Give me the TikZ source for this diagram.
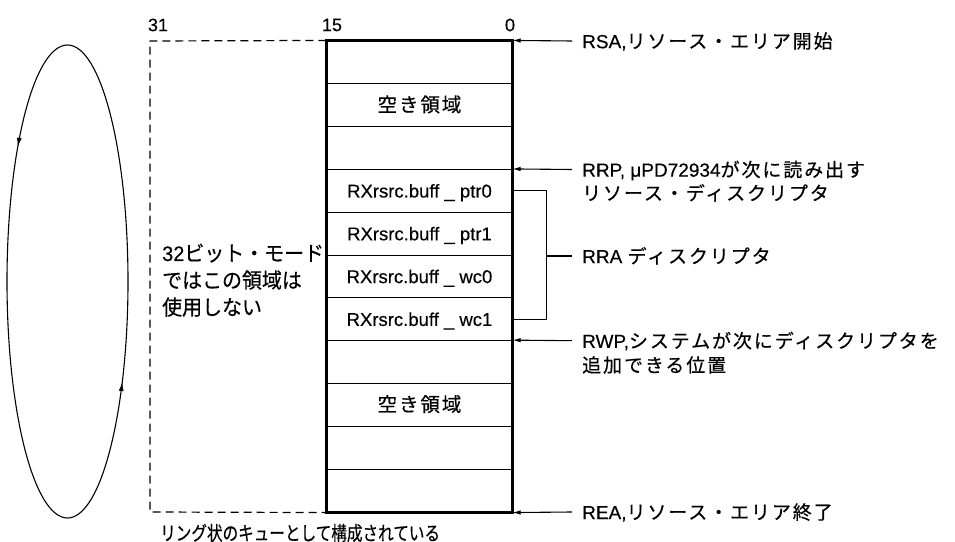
\documentclass[tikz,border=0pt]{standalone}
\usepackage{fontspec}
\setmainfont{Liberation Sans}[FakeBold=0.3]
\newfontfamily\jp{Noto Sans CJK JP}[FakeBold=0.4]
\newfontfamily\jpsp{Noto Sans CJK JP}[FakeBold=0.4,LetterSpace=10]
\usetikzlibrary{arrows.meta,decorations.markings}
\tikzset{
  rowbox/.style={draw, line width=1.1bp, minimum width=185bp, minimum height=42.8bp, inner sep=0pt,
    text height=13.2bp, text depth=0bp, font=\fontsize{18.5bp}{22bp}\selectfont},
  lbl/.style={anchor=west, inner sep=0pt, text height=16.7bp, text depth=2.3bp,
    font=\fontsize{19bp}{22bp}\selectfont},
  leftlbl/.style={anchor=west, inner sep=0pt, text height=18.5bp, text depth=2.5bp,
    font=\fontsize{21bp}{24bp}\selectfont},
  numlbl/.style={inner sep=0pt, font=\fontsize{18bp}{20bp}\selectfont},
  arr/.style={line width=1.1bp, -{Latex[length=8bp,width=4.5bp]}},
  conn/.style={line width=1.1bp},
  dashline/.style={line width=1.2bp, dash pattern=on 8bp off 5bp},
  ringarrow/.style={line width=1.1bp, postaction={decorate},
    decoration={markings,
      mark=at position 0.367 with {\arrow{Latex[length=9bp,width=5bp]}},
      mark=at position 0.901 with {\arrow{Latex[length=9bp,width=5bp]}}}}
}
\begin{document}
\begin{tikzpicture}[x=1bp,y=-1bp]
\useasboundingbox (0,0) rectangle (955,542);

% memory rows
\node[rowbox] (r1) at (419.5,62.4) {};
\node[rowbox] (r2) at (419.5,105.2) {\fontsize{19.5bp}{22bp}\selectfont\jpsp 空き領域};
\node[rowbox] (r3) at (419.5,148.0) {};
\node[rowbox] (r4) at (419.5,190.9) {RXrsrc.buff \_ ptr0};
\node[rowbox] (r5) at (419.5,233.7) {RXrsrc.buff \_ ptr1};
\node[rowbox] (r6) at (419.5,276.5) {RXrsrc.buff \_ wc0};
\node[rowbox] (r7) at (419.5,319.3) {RXrsrc.buff \_ wc1};
\node[rowbox] (r8) at (419.5,362.1) {};
\node[rowbox] (r9) at (419.5,404.9) {\fontsize{19.5bp}{22bp}\selectfont\jpsp 空き領域};
\node[rowbox] (r10) at (419.5,447.7) {};
\node[rowbox] (r11) at (419.5,490.6) {};
\draw[line width=2.4bp] (r1.north west) rectangle (r11.south east);

% bit numbers
\node[numlbl] (n31) at (158,25) {31};
\node[numlbl] (n15) at (332,25) {15};
\node[numlbl] (n0) at (510,25) {0};

% dashed 32-bit area
\coordinate (dtl) at (150,41);
\coordinate (dbl) at (150,512);
\draw[dashline] (r1.north west) -- (dtl) -- (dbl) -- (r11.south west);

\node[leftlbl] (m1) at (162,253) {\scalebox{0.95}[1]{32{\jp ビット・モード}}};
\node[leftlbl] (m2) at (162,280) {\scalebox{0.95}[1]{\jp ではこの領域は}};
\node[leftlbl] (m3) at (162,307) {\scalebox{0.95}[1]{\jp 使用しない}};

\node[anchor=west, inner sep=0pt, font=\fontsize{19.5bp}{22bp}\selectfont\jp] (ring) at (160,533) {\scalebox{0.8}[1]{リング状のキューとして構成されている}};

% ring ellipse
\draw[ringarrow] (67.5,281.5) ellipse [x radius=60.5bp, y radius=236.5bp];

% right labels
\node[lbl] (rsa) at (582,41) {RSA,{\jpsp リソース・エリア開始}};
\node[lbl] (rrp) at (582,169.5) {RRP,~μPD72934{\jpsp が次に読み出す}};
\node[lbl] (rrp2) at (582,193) {\jpsp リソース・ディスクリプタ};
\node[lbl] (rra) at (582,256) {RRA {\jpsp ディスクリプタ}};
\node[lbl] (rwp) at (582,340.7) {RWP,{\jpsp システムが次にディスクリプタを}};
\node[lbl] (rwp2) at (582,365) {\jpsp 追加できる位置};
\node[lbl] (rea) at (582,512) {REA,{\jpsp リソース・エリア終了}};

\draw[arr] ([xshift=-10bp]rsa.west) -- (r1.north east);
\draw[arr] ([xshift=-10bp]rrp.west) -- (r4.north east);
\draw[arr] ([xshift=-10bp]rwp.west) -- (r8.north east);
\draw[arr] ([xshift=-10bp]rea.west) -- (r11.south east);

% RRA bracket
\draw[conn] (r4.east) -- ++(34bp,0) coordinate (bt) |- (r7.east);
\draw[conn] ([xshift=-10bp]rra.west) -- (rra.west -| bt);
\end{tikzpicture}
\end{document}
